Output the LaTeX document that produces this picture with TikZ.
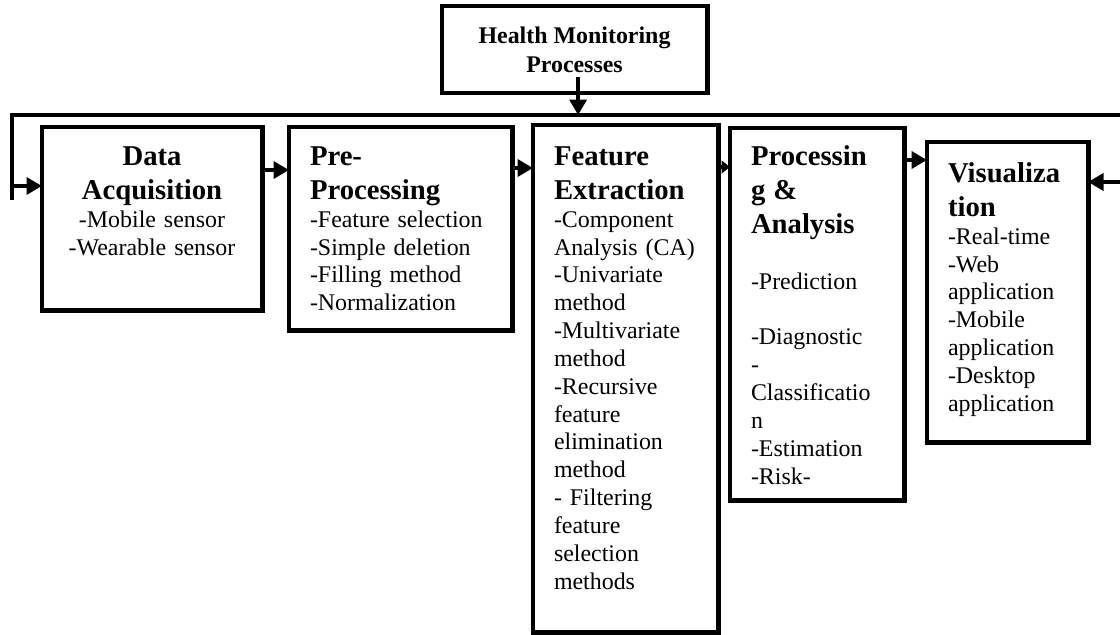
\documentclass[tikz,border=0pt]{standalone}
\usepackage{fontspec}
\setmainfont{Liberation Serif}
\usetikzlibrary{arrows.meta, positioning}
\newcommand\stagebody{\fontsize{17}{19.8}\selectfont}
\newcommand\stagetitle{\fontsize{20.4}{24.4}\selectfont\bfseries}
\newcommand\topfont{\fontsize{17}{20.5}\selectfont\bfseries}
\tikzstyle{arrow} = [line width=2.8pt,->,>={Triangle[length=11pt,width=12pt]}]
\tikzstyle{bus} = [line width=2.8pt]
\tikzset{
	stage/.style = {rectangle, draw=black, line width=3.5pt, anchor=north west,
		outer sep=0pt, inner xsep=0.525cm, inner ysep=0pt,
		align=left, font=\stagebody},
	topbox/.style = {rectangle, draw=black, line width=3.5pt, outer sep=0pt,
		minimum width=6.625cm, minimum height=2.175cm,
		align=center, font=\topfont}
}

\begin{document}
\begin{tikzpicture}[x=0.025cm, y=-0.025cm]
\useasboundingbox (0,0) rectangle (1120,635);
%----------------------------------------------------------------------------
% Placement of the boxes
\node (healthMon) [topbox] at (574.5,49.5) {Health Monitoring\\Processes};

\node (dataAcq) [stage, align=center, text width=4.45cm, text height=0.95cm, text depth=3.625cm] at (42,127)
	{{\stagetitle Data\\Acquisition\par}-Mobile sensor\\-Wearable sensor};
\node (preProc) [stage, text width=4.525cm, text height=0.95cm, text depth=4.125cm] at (289,127)
	{{\stagetitle Pre-\\Processing\par}-Feature selection\\-Simple deletion\\-Filling method\\-Normalization};
\node (featExt) [stage, text width=3.575cm, text height=1cm, text depth=11.675cm] at (533,125)
	{{\stagetitle Feature\\Extraction\par}-Component\\Analysis (CA)\\-Univariate\\method\\-Multivariate\\method\\-Recursive\\feature\\elimination\\method\\- Filtering\\feature\\selection\\methods};
\node (procAna) [stage, text width=3.3cm, text height=0.925cm, text depth=8.375cm] at (730,128)
	{{\stagetitle Processin\\g \&\\Analysis\par}\mbox{}\\-Prediction\\\mbox{}\\-Diagnostic\\-\\Classificatio\\n\\-Estimation\\-Risk-};
\node (visual) [stage, text width=2.975cm, text height=1cm, text depth=6.5cm] at (927,142)
	{{\stagetitle Visualiza\\tion\par}-Real-time\\-Web\\application\\-Mobile\\application\\-Desktop\\application};

%----------------------------------------------------------------------------
% Bus line
\coordinate (busL) at (12,115);
\coordinate (busR) at (1122,115);
\coordinate (dropL) at (12,200);
\coordinate (loopL) at (12,186);
\coordinate (loopR) at (1122,182);
\coordinate (hmDrop) at ([xshift=0.09cm,yshift=0.4cm]healthMon.south);

\draw [bus] (dropL) -- (busL) -- (busR) -- (loopR);
\draw [arrow] (hmDrop) -- (hmDrop |- busL);
\draw [arrow] (loopL) -- (loopL -| dataAcq.west);
\draw [arrow] (loopR) -- (loopR -| visual.east);

%----------------------------------------------------------------------------
% Lines between the boxes
\coordinate (daOut) at ([yshift=-1.075cm]dataAcq.north east);
\coordinate (ppOut) at ([yshift=-1.025cm]preProc.north east);
\coordinate (feOut) at ([yshift=-1.05cm]featExt.north east);
\coordinate (paOut) at ([yshift=-0.8cm]procAna.north east);

\draw [arrow] (daOut) -- (daOut -| preProc.west);
\draw [arrow] (ppOut) -- (ppOut -| featExt.west);
\draw [arrow, -{Triangle[length=6pt,width=9pt]}] (feOut) -- (feOut -| procAna.west);
\draw [arrow] (paOut) -- (paOut -| visual.west);

\end{tikzpicture}
\end{document}
